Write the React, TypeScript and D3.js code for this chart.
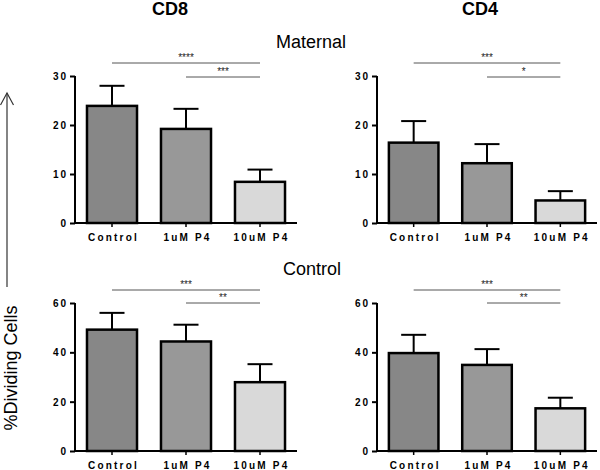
import React, { useEffect, useRef } from 'react';
import * as d3 from 'd3';

const categories = ['Control', '1uM P4', '10uM P4'];

const cd8Maternal = [23.9, 19.2, 8.4];
const cd8MaternalErr = [4.1, 4.1, 2.5];
const cd4Maternal = [16.4, 12.2, 4.6];
const cd4MaternalErr = [4.4, 3.9, 1.9];
const cd8Control = [49.2, 44.4, 27.9];
const cd8ControlErr = [6.8, 6.8, 7.3];
const cd4Control = [39.7, 34.9, 17.3];
const cd4ControlErr = [7.4, 6.4, 4.3];

const maternalTicks = [0, 10, 20, 30];
const controlTicks = [0, 20, 40, 60];

// [from, to, label]
const cd8MaternalSig = [['Control', '10uM P4', '****'], ['1uM P4', '10uM P4', '***']];
const cd4MaternalSig = [['Control', '10uM P4', '***'], ['1uM P4', '10uM P4', '*']];
const cd8ControlSig = [['Control', '10uM P4', '***'], ['1uM P4', '10uM P4', '**']];
const cd4ControlSig = [['Control', '10uM P4', '***'], ['1uM P4', '10uM P4', '**']];

const barColors = ['#878787', '#989898', '#d9d9d9'];
const font = 'Liberation Sans, Arial, Helvetica, sans-serif';

const panels = [
  { values: cd8Maternal, errs: cd8MaternalErr, ticks: maternalTicks, sig: cd8MaternalSig, x0: 75, x1: 297, y0: 223, y1: 76, sigY: [63, 77] },
  { values: cd4Maternal, errs: cd4MaternalErr, ticks: maternalTicks, sig: cd4MaternalSig, x0: 377, x1: 597, y0: 223, y1: 76, sigY: [63, 77] },
  { values: cd8Control, errs: cd8ControlErr, ticks: controlTicks, sig: cd8ControlSig, x0: 75, x1: 297, y0: 451, y1: 303, sigY: [290, 303] },
  { values: cd4Control, errs: cd4ControlErr, ticks: controlTicks, sig: cd4ControlSig, x0: 377, x1: 597, y0: 451, y1: 303, sigY: [290, 303] },
];

function drawPanel(svg: any, p: any) {
  const x = d3.scaleBand()
    .domain(categories)
    .range([p.x0, p.x1])
    .paddingInner(0.324)
    .paddingOuter(0.162);
  const y = d3.scaleLinear()
    .domain([0, p.ticks[p.ticks.length - 1]])
    .range([p.y0, p.y1]);
  const center = (c: string) => (x(c) as number) + x.bandwidth() / 2;

  const g = svg.append('g');

  // error bars (drawn first so bar outline covers the base)
  p.values.forEach((v: number, i: number) => {
    const cx = center(categories[i]);
    g.append('line')
      .attr('x1', cx).attr('x2', cx)
      .attr('y1', y(v)).attr('y2', y(v + p.errs[i]))
      .attr('stroke', '#000').attr('stroke-width', 2);
    g.append('line')
      .attr('x1', cx - 12.5).attr('x2', cx + 12.5)
      .attr('y1', y(v + p.errs[i])).attr('y2', y(v + p.errs[i]))
      .attr('stroke', '#000').attr('stroke-width', 2);
  });

  g.selectAll('.bar')
    .data(p.values)
    .enter()
    .append('rect')
    .attr('x', (d: number, i: number) => x(categories[i]))
    .attr('y', (d: number) => y(d))
    .attr('width', x.bandwidth())
    .attr('height', (d: number) => p.y0 - y(d))
    .attr('fill', (d: number, i: number) => barColors[i])
    .attr('stroke', '#000')
    .attr('stroke-width', 2.5);

  // y axis
  const yAxis = g.append('g')
    .attr('transform', `translate(${p.x0},0)`)
    .call(d3.axisLeft(y).tickValues(p.ticks).tickSize(5).tickPadding(4));
  yAxis.select('.domain').attr('stroke-width', 2).attr('d', `M0,${p.y0 + 1}V${p.y1}`);
  yAxis.selectAll('.tick line').attr('stroke-width', 2);
  yAxis.selectAll('text')
    .attr('font-family', font).attr('font-size', 10).attr('font-weight', 'bold')
    .attr('letter-spacing', '2px').attr('dy', '0.35em').attr('dx', '2');

  // x axis
  const xAxis = g.append('g')
    .attr('transform', `translate(0,${p.y0})`)
    .call(d3.axisBottom(x).tickSize(4).tickPadding(5));
  xAxis.select('.domain').attr('stroke-width', 2).attr('d', `M${p.x0},0H${p.x1}`);
  xAxis.selectAll('.tick line').attr('stroke-width', 1.5);
  xAxis.selectAll('text')
    .attr('font-family', font).attr('font-size', 10).attr('font-weight', 'bold')
    .attr('letter-spacing', '2.2px').attr('dx', '1.5').attr('y', 10.5);

  // significance brackets
  p.sig.forEach((s: any, i: number) => {
    const a = center(s[0]);
    const b = center(s[1]);
    const ly = p.sigY[i];
    g.append('line')
      .attr('x1', a).attr('x2', b).attr('y1', ly).attr('y2', ly)
      .attr('stroke', '#555').attr('stroke-width', 1);
    g.append('text')
      .attr('x', (a + b) / 2).attr('y', ly - 2)
      .attr('text-anchor', 'middle')
      .attr('font-family', font).attr('font-size', 10)
      .attr('fill', '#222')
      .text(s[2]);
  });
}

export default function App() {
  const ref = useRef<SVGSVGElement>(null);

  useEffect(() => {
    const svg = d3.select(ref.current);
    svg.selectAll('*').remove();

    panels.forEach(p => drawPanel(svg, p));

    const titles = [
      { t: 'CD8', x: 170, y: 15, w: 'bold' },
      { t: 'CD4', x: 480, y: 15, w: 'bold' },
      { t: 'Maternal', x: 311, y: 48, w: 'normal' },
      { t: 'Control', x: 312, y: 275, w: 'normal' },
    ];
    svg.selectAll('.title')
      .data(titles)
      .enter()
      .append('text')
      .attr('x', d => d.x).attr('y', d => d.y)
      .attr('text-anchor', 'middle')
      .attr('font-family', font).attr('font-size', 18)
      .attr('font-weight', d => d.w)
      .text(d => d.t);

    // y label + arrow
    svg.append('text')
      .attr('transform', 'translate(16.5,368) rotate(-90)')
      .attr('text-anchor', 'middle')
      .attr('font-family', font).attr('font-size', 18)
      .text('%Dividing Cells');
    svg.append('line')
      .attr('x1', 7).attr('x2', 7).attr('y1', 93).attr('y2', 287)
      .attr('stroke', '#333').attr('stroke-width', 1.2);
    svg.append('path')
      .attr('d', 'M0.5,105L7,93L13.5,105')
      .attr('fill', 'none').attr('stroke', '#333').attr('stroke-width', 1.2);
  }, []);

  return (
    <svg ref={ref} width={600} height={470}
      style={{ position: 'absolute', left: 0, top: 0, background: '#fff' }} />
  );
}
